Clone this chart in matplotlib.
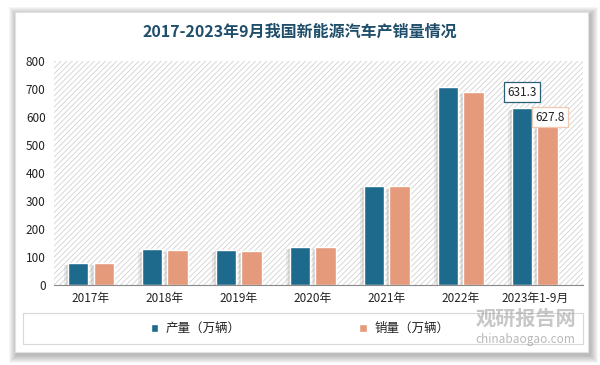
import matplotlib
matplotlib.use("Agg")
import matplotlib.pyplot as plt
from matplotlib.patches import Rectangle
import numpy as np

plt.rcParams['font.family'] = ['Noto Sans CJK SC', 'DejaVu Sans']
plt.rcParams['hatch.linewidth'] = 0.6
plt.rcParams['hatch.color'] = '#d2d2d2'

categories = ['2017年', '2018年', '2019年', '2020年', '2021年', '2022年', '2023年1-9月']
production = [79.4, 127.0, 124.2, 136.6, 354.5, 705.8, 631.3]
sales = [77.7, 125.6, 120.6, 136.7, 352.1, 688.7, 627.8]
series_names = ['产量（万辆）', '销量（万辆）']
yticks = [0, 100, 200, 300, 400, 500, 600, 700, 800]

c_prod = '#1d6a8c'
c_sale = '#e59a7b'

W, H = 600, 365
fig = plt.figure(figsize=(6, 3.65), dpi=100)
fig.patch.set_facecolor('white')

def px_rect(x0, y0, x1, y1, **kw):
    # pixel coords (top-left origin) -> figure fraction rectangle
    r = Rectangle((x0 / W, 1 - y1 / H), (x1 - x0) / W, (y1 - y0) / H,
                  transform=fig.transFigure, **kw)
    fig.patches.append(r)
    return r

# blurred card shadow
for i in range(8, 0, -1):
    px_rect(15 - i + 2, 12 - i + 3, 588 + i + 2, 352 + i + 3,
            facecolor='#000000', edgecolor='none', alpha=0.035, zorder=0)
px_rect(15, 12, 588, 352, facecolor='white', edgecolor='#e2e2e2', lw=0.8, zorder=1)

fig.text(0.5, 1 - 32 / H, '2017-2023年9月我国新能源汽车产销量情况', ha='center', va='center',
         fontsize=11.5, fontweight='bold', color='#1f4e6b', zorder=5)

ax = fig.add_axes([54 / W, 1 - 285 / H, 529 / W, 224 / H])
ax.set_zorder(3)
ax.patch.set_alpha(0)
x = np.arange(len(categories))
w = 0.277
gap = 0.068
ax.set_xlim(-0.5, len(categories) - 0.35)
ax.set_ylim(0, 800)

# hatched background
ax.add_patch(Rectangle((-0.5, 0), len(categories) + 0.15, 800, facecolor='white',
                       edgecolor='#d2d2d2', hatch='//////', lw=0, zorder=0))

# soft shadows of bars (to the lower-left)
for xi, p, s in zip(x, production, sales):
    for k, a in [(0.05, 0.18), (0.03, 0.25)]:
        ax.bar(xi - w / 2 - gap / 2 - k, p, w, bottom=-8, color='#a0a0a0', alpha=a, zorder=1, lw=0)
        ax.bar(xi + w / 2 + gap / 2 - k, s, w, bottom=-8, color='#a0a0a0', alpha=a, zorder=1, lw=0)

ax.bar(x - w / 2 - gap / 2, production, w, color=c_prod, edgecolor='white', lw=1, zorder=2,
       label=series_names[0])
ax.bar(x + w / 2 + gap / 2, sales, w, color=c_sale, edgecolor='white', lw=1, zorder=2,
       label=series_names[1])

ax.annotate(f'{production[-1]:.1f}', xy=(x[-1] - w / 2 - gap / 2, production[-1]),
            xytext=(0, 7), textcoords='offset points', ha='center', va='bottom',
            fontsize=8.5, color='#222222',
            bbox=dict(boxstyle='square,pad=0.3', fc='white', ec='#2a5f78', lw=0.9), zorder=6)
ax.annotate(f'{sales[-1]:.1f}', xy=(x[-1] + w / 2 + gap / 2, sales[-1]),
            xytext=(1.5, -1), textcoords='offset points', ha='center', va='top',
            fontsize=8.5, color='#222222',
            bbox=dict(boxstyle='square,pad=0.3', fc='white', ec='#f0c9b0', lw=0.9), zorder=6)

ax.set_yticks(yticks)
ax.set_xticks(x)
ax.set_xticklabels(categories)
ax.tick_params(axis='both', length=0, labelsize=8.5, colors='#222222')
ax.tick_params(axis='x', pad=5)
ax.tick_params(axis='y', pad=6)
for sp in ['top', 'right', 'left']:
    ax.spines[sp].set_visible(False)
ax.spines['bottom'].set_color('#8a8a8a')
ax.spines['bottom'].set_linewidth(0.8)

# legend box
px_rect(23, 313, 583, 344, facecolor='white', edgecolor='#d8d8d8', lw=0.8, zorder=2)
handles, labels = ax.get_legend_handles_labels()
leg = fig.legend(handles, labels, loc='center', bbox_to_anchor=(0.5, 1 - 328.5 / H), ncol=2,
                 frameon=False, fontsize=9, handlelength=0.6, handleheight=0.6,
                 columnspacing=9.5, handletextpad=0.6)
leg.set_zorder(4)
for t in leg.get_texts():
    t.set_color('#222222')

# watermark
fig.text(0.876, 1 - 318 / H, '观研报告网', ha='center', va='center', fontsize=14.5, fontweight='bold',
         color='#9a9a9a', alpha=0.55, zorder=7)
fig.text(0.876, 1 - 340 / H, 'chinabaogao.com', ha='center', va='center', fontsize=8.5,
         color='#9a9a9a', alpha=0.7, zorder=7)

fig.savefig('out.png', dpi=100)
